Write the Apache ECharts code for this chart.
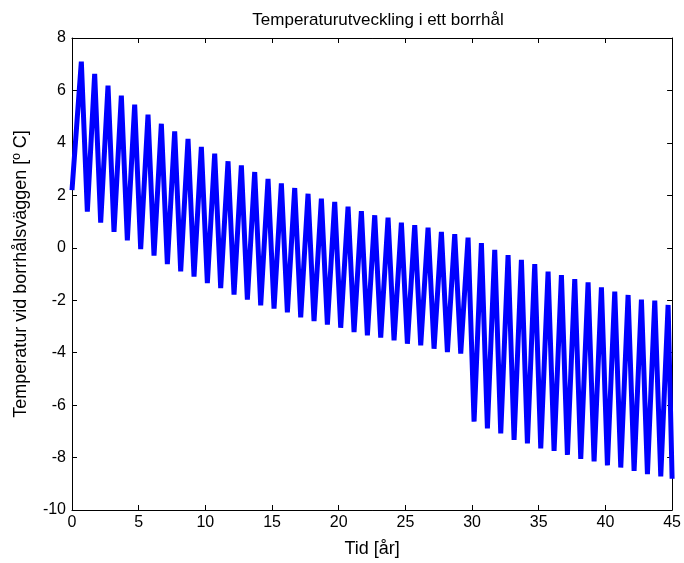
<!DOCTYPE html>
<html>
<head>
<meta charset="utf-8">
<script src="https://cdn.jsdelivr.net/npm/echarts@6/dist/echarts.min.js"></script>
<style>
html,body{margin:0;padding:0;background:#fff;}
#chart{width:684px;height:563px;}
</style>
</head>
<body>
<div id="chart"></div>
<script>
// Data (one cycle per year)
var startYear = 0;
var startValue = 2.2;
// Peak of each yearly cycle k (k = 0..44), occurring at about k + 0.7 years
var peakValues = [7.10, 6.63, 6.18, 5.80, 5.46, 5.08, 4.73, 4.44, 4.15, 3.85,
                  3.59, 3.30, 3.14, 2.89, 2.63, 2.46, 2.28, 2.06, 1.87, 1.75,
                  1.57, 1.40, 1.24, 1.15, 0.96, 0.86, 0.77, 0.61, 0.52, 0.39,
                  0.18, -0.08, -0.28, -0.46, -0.62, -0.91, -1.04, -1.19, -1.32, -1.51,
                  -1.67, -1.80, -1.98, -2.01, -2.18];
// Trough after each peak (k = 1..44 at about k + 0.15 years)
var troughValues = [1.38, 0.96, 0.61, 0.28, -0.05, -0.30, -0.62, -0.90, -1.10, -1.35,
                    -1.54, -1.79, -1.98, -2.20, -2.32, -2.46, -2.65, -2.80, -2.93, -3.05,
                    -3.22, -3.34, -3.43, -3.53, -3.66, -3.72, -3.85, -3.98, -4.04, -6.63,
                    -6.89, -7.08, -7.33, -7.46, -7.65, -7.75, -7.90, -8.05, -8.15, -8.30,
                    -8.38, -8.51, -8.63, -8.72];
var endYear = 45;
var endValue = -8.81;
var peakPhase = 0.7;
var troughPhase = 0.15;

var xTicks = [0, 5, 10, 15, 20, 25, 30, 35, 40, 45];
var yTicks = [-10, -8, -6, -4, -2, 0, 2, 4, 6, 8];

var titleText = 'Temperaturutveckling i ett borrhål';
var xName = 'Tid [år]';
var yName = 'Temperatur vid borrhålsväggen [º C]';

var pts = [[startYear, startValue]];
for (var k = 0; k < peakValues.length; k++) {
  pts.push([k + peakPhase, peakValues[k]]);
  if (k < troughValues.length) pts.push([k + 1 + troughPhase, troughValues[k]]);
}
pts.push([endYear, endValue]);

var font = 'Liberation Sans, Arial, sans-serif';
var black = '#000';

function xAx(pos, labels) {
  return {
    type: 'value', position: pos, min: xTicks[0], max: xTicks[xTicks.length - 1], interval: 5,
    axisLine: {show: true, onZero: false, lineStyle: {color: black, width: 1}},
    axisTick: {show: true, inside: true, length: 5, lineStyle: {color: black}},
    axisLabel: {show: labels, color: black, fontSize: 16, fontFamily: font, margin: 5},
    splitLine: {show: false},
    name: labels ? xName : '', nameLocation: 'middle', nameGap: 30,
    nameTextStyle: {color: black, fontSize: 18, fontFamily: font}
  };
}
function yAx(pos, labels) {
  return {
    type: 'value', position: pos, min: yTicks[0], max: yTicks[yTicks.length - 1], interval: 2,
    axisLine: {show: true, onZero: false, lineStyle: {color: black, width: 1}},
    axisTick: {show: true, inside: true, length: 5, lineStyle: {color: black}},
    axisLabel: {show: labels, color: black, fontSize: 16, fontFamily: font, margin: 6},
    splitLine: {show: false},
    name: labels ? yName : '', nameLocation: 'middle', nameGap: 42,
    nameTextStyle: {color: black, fontSize: 18, fontFamily: font}
  };
}

var chart = echarts.init(document.getElementById('chart'), null, {renderer: 'canvas'});
chart.setOption({
  animation: false,
  backgroundColor: '#fff',
  title: {
    text: titleText, left: 373, top: 7, textAlign: 'center',
    textStyle: {color: black, fontSize: 17, fontWeight: 'normal', fontFamily: font}
  },
  grid: {left: 72, right: 7, top: 38, bottom: 51, containLabel: false},
  xAxis: [xAx('bottom', true), xAx('top', false)],
  yAxis: [yAx('left', true), yAx('right', false)],
  series: [{
    type: 'line', data: pts, xAxisIndex: 0, yAxisIndex: 0,
    showSymbol: false, symbol: 'none',
    lineStyle: {color: '#0000ff', width: 5, join: 'miter'},
    clip: true
  }]
});
</script>
</body>
</html>
